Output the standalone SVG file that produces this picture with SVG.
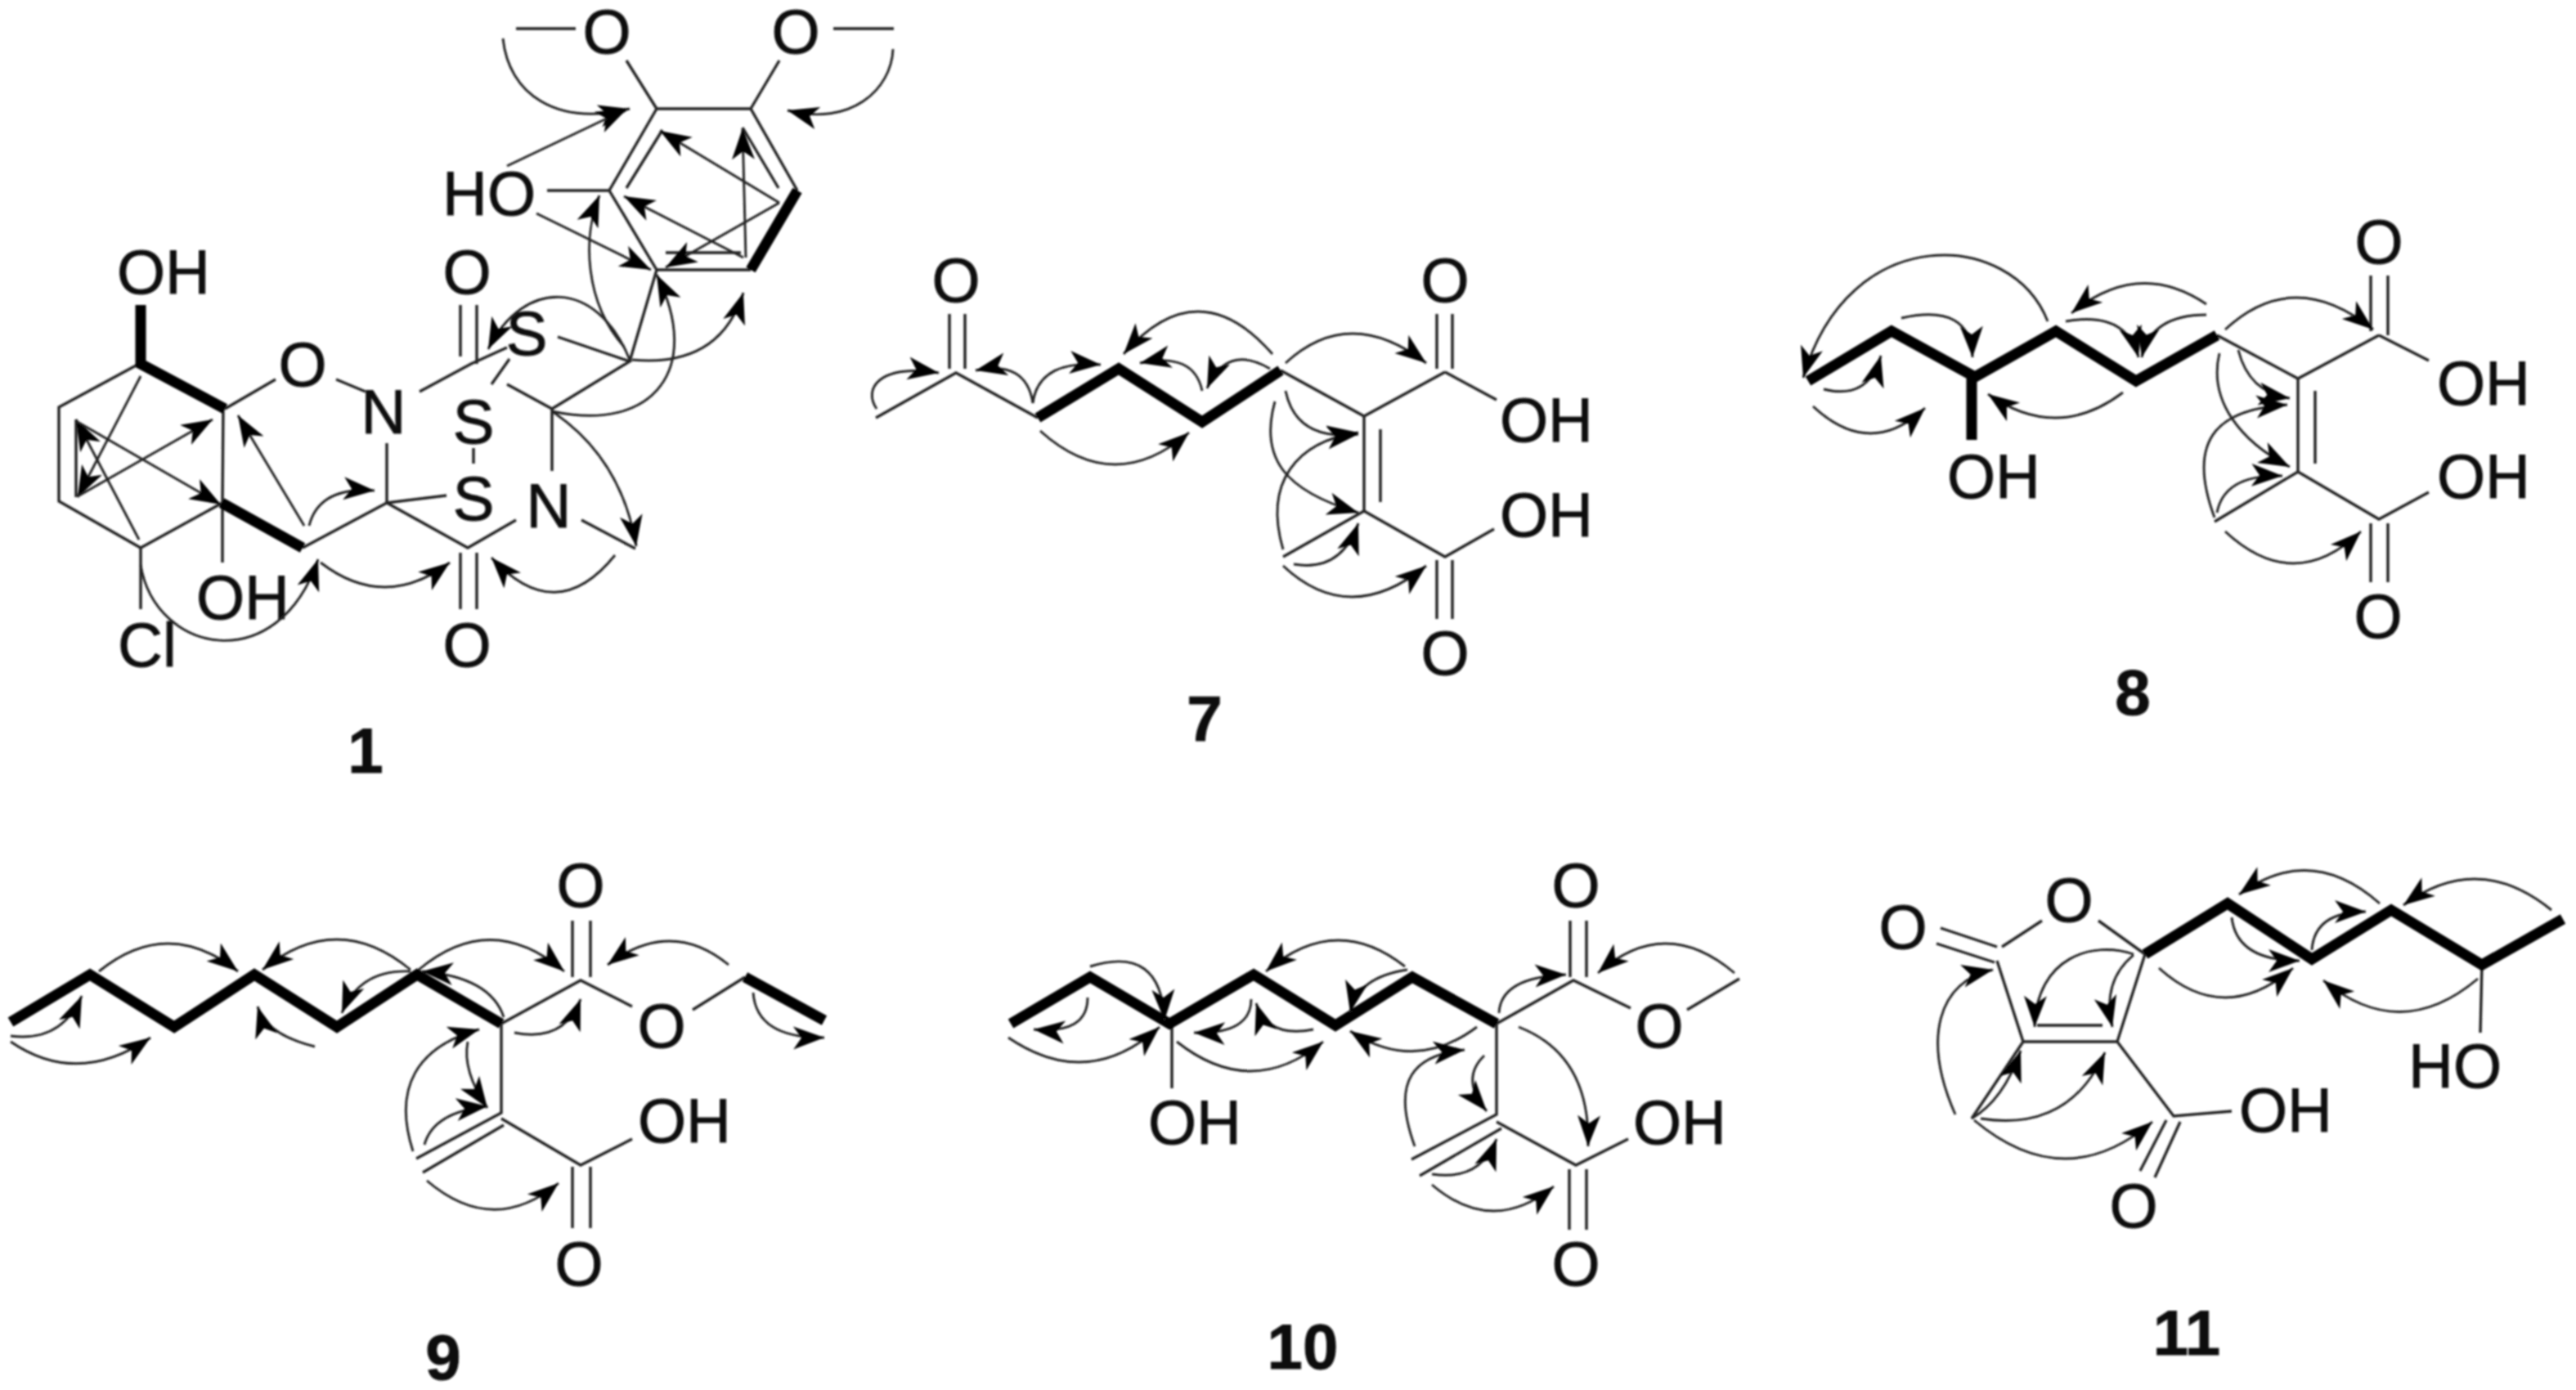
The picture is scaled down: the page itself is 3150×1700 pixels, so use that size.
<svg xmlns="http://www.w3.org/2000/svg" width="3150" height="1700" viewBox="0 0 3150 1700">
<style>
.b{fill:none;stroke:#222;stroke-width:3.4}
.h{fill:none;stroke:#000;stroke-width:13;stroke-linejoin:miter}
.a{fill:none;stroke:#222;stroke-width:2.9;marker-end:url(#ah)}
text{font-family:"Liberation Sans",Arial,sans-serif;font-size:76px;fill:#111;stroke:#111;stroke-width:.9;text-anchor:middle}
.n{font-weight:bold;font-size:78px}
</style>
<defs>
<marker id="ah" markerUnits="userSpaceOnUse" markerWidth="40" markerHeight="30" viewBox="0 0 40 30" refX="38" refY="15" orient="auto"><path d="M0 1L38 15L0 29L10 15Z" fill="#000"/></marker>
<filter id="soft" x="0" y="0" width="3150" height="1700" filterUnits="userSpaceOnUse"><feGaussianBlur stdDeviation="0.9"/></filter>
</defs>
<rect width="3150" height="1700" fill="#fff"/>
<g filter="url(#soft)">
<g id="compound-1">
<path class="b" d="M631 35H704M1019 35H1093M766 74L803 133M953 74L918 133M803 133H918L975 233M918 330H803L745 233L803 133M810 159L766 230M908 156L952 230M814 309H906M669 233H745M803 330L770 442M682 412L770 442L675 500V576M711 636L777 671M620 470L675 500M513 479L576 445L620 425M563 373V436M583 373V445M623 439L601 470M579 548V567M473 542V615L546 606M411 464L447 479M275 500L337 464M473 615L572 670L631 636M563 676V745M583 676V745M473 615L370 670M170 445L72 498V613L172 670L272 615L273 498M93 513V608M172 670V745M272 615V688"/>
<path class="h" d="M975 233L918 330M172 373V445L275 500M370 670L271 615"/>
<text x="742" y="65">O</text><text x="973" y="65">O</text><text x="598" y="263">HO</text><text x="644" y="434">S</text><text x="571" y="359">O</text><text x="370" y="472">O</text><text x="469" y="530">N</text><text x="579" y="542">S</text><text x="579" y="636">S</text><text x="671" y="645">N</text><text x="200" y="359">OH</text><text x="297" y="757">OH</text><text x="180" y="815">Cl</text><text x="571" y="815">O</text>
<text class="n" x="447" y="945">1</text>
</g>
<g id="compound-7">
<path class="b" d="M1161 384V451M1180 384V451M1071 511L1169 456L1269 511M1566 453L1668 509L1767 455M1757 384V451M1776 384V451M1767 455L1830 489M1668 509V625M1688 525V614M1569 681L1668 625L1767 681L1827 647M1757 685V757M1776 685V757"/>
<path class="h" d="M1269 511L1368 451L1470 516L1566 453"/>
<text x="1169" y="369">O</text><text x="1767" y="369">O</text><text x="1891" y="540">OH</text><text x="1891" y="656">OH</text><text x="1767" y="825">O</text>
<text class="n" x="1473" y="906">7</text>
</g>
<g id="compound-8">
<path class="b" d="M2711 410L2810 463L2909 410M2899 337V405M2920 337V410M2909 410L2970 441M2810 463V577M2831 478V567M2708 638L2810 577L2909 635L2970 602M2899 640V712M2920 640V712"/>
<path class="h" d="M2211 466L2313 405L2415 461L2514 405L2612 466L2711 410M2411 461V538"/>
<text x="2909" y="322">O</text><text x="3037" y="495">OH</text><text x="3037" y="609">OH</text><text x="2438" y="609">OH</text><text x="2908" y="780">O</text>
<text class="n" x="2608" y="874">8</text>
</g>
<g id="compound-9">
<path class="b" d="M613 1252L710 1199L773 1231M700 1126V1195M722 1126V1195M847 1235L911 1195M613 1252V1361L509 1417M616 1376L517 1434M613 1368L710 1425L773 1393M700 1427V1502M722 1427V1502"/>
<path class="h" d="M13 1250L110 1192L213 1256L311 1192L412 1256L510 1192L613 1252M911 1195L1008 1248"/>
<text x="710" y="1109">O</text><text x="809" y="1281">O</text><text x="837" y="1397">OH</text><text x="708" y="1572">O</text>
<text class="n" x="542" y="1687">9</text>
</g>
<g id="compound-10">
<path class="b" d="M1830 1252L1924 1199L1994 1233M1920 1126V1195M1940 1126V1195M2063 1235L2127 1197M1830 1252V1363L1726 1418M1836 1380L1736 1438M1830 1372L1927 1425L1991 1393M1919 1430V1504M1940 1430V1504M1433 1252V1331"/>
<path class="h" d="M1236 1252L1333 1195L1430 1252L1533 1192L1633 1254L1727 1195L1830 1252"/>
<text x="1927" y="1109">O</text><text x="2029" y="1281">O</text><text x="2054" y="1399">OH</text><text x="1461" y="1399">OH</text><text x="1927" y="1572">O</text>
<text class="n" x="1593" y="1674">10</text>
</g>
<g id="compound-11">
<path class="b" d="M2373 1135L2442 1158M2368 1154L2439 1177M2448 1158L2497 1126M2566 1126L2623 1167L2589 1274H2474L2442 1175M2491 1254H2571M2474 1274L2411 1368M2589 1274L2658 1365L2729 1359M2649 1370L2617 1432M2666 1372L2635 1440M3035 1180L3033 1263"/>
<path class="h" d="M2623 1167L2724 1105L2827 1173L2924 1113L3035 1180L3134 1124"/>
<text x="2530" y="1127">O</text><text x="2327" y="1160">O</text><text x="2795" y="1384">OH</text><text x="2609" y="1501">O</text><text x="3002" y="1330">HO</text>
<text class="n" x="2674" y="1657">11</text>
</g>
<g id="connectors">
<g id="hmbc-1">
<path class="a" d="M615 47C622 115 680 155 770 133"/><path class="a" d="M1092 60C1090 110 1040 155 963 135"/><path class="a" d="M620 203L767 133"/><path class="a" d="M656 261L796 330"/><path class="a" d="M953 248L807 160"/><path class="a" d="M912 315L908 157"/><path class="a" d="M909 315L763 240"/><path class="a" d="M953 248L814 327"/><path class="a" d="M763 424C715 370 712 290 733 239"/><path class="a" d="M675 503C800 530 860 450 803 336"/><path class="a" d="M773 440Q880 450 909 358"/><path class="a" d="M770 440C730 340 640 340 597 427"/><path class="a" d="M675 503Q760 560 778 668"/><path class="a" d="M752 679Q680 768 601 682"/><path class="a" d="M392 688Q470 748 550 688"/><path class="a" d="M172 691C190 800 340 830 389 684"/><path class="a" d="M372 643L291 508"/><path class="a" d="M378 643Q390 595 458 600"/><path class="a" d="M172 460L95 608"/><path class="a" d="M170 660L93 513"/><path class="a" d="M95 607L260 513"/><path class="a" d="M93 515L270 617"/>
</g>
<g id="hmbc-7">
<path class="a" d="M1072 500C1055 475 1075 445 1148 456"/><path class="a" d="M1263 493Q1255 440 1193 453"/><path class="a" d="M1263 493Q1270 440 1346 446"/><path class="a" d="M1272 527Q1362 608 1454 529"/><path class="a" d="M1556 433Q1465 329 1374 433"/><path class="a" d="M1470 478Q1460 430 1394 444"/><path class="a" d="M1553 451Q1500 420 1476 475"/><path class="a" d="M1572 444Q1650 372 1744 444"/><path class="a" d="M1572 478Q1585 540 1661 531"/><path class="a" d="M1559 491C1540 560 1570 600 1661 627"/><path class="a" d="M1569 672C1545 590 1585 540 1661 529"/><path class="a" d="M1582 690Q1640 700 1661 640"/><path class="a" d="M1569 692Q1650 768 1744 692"/>
</g>
<g id="hmbc-8">
<path class="a" d="M2504 393C2460 280 2260 270 2205 462"/><path class="a" d="M2325 389Q2410 370 2412 437"/><path class="a" d="M2230 476Q2285 490 2300 435"/><path class="a" d="M2217 497Q2287 562 2354 499"/><path class="a" d="M2596 480Q2515 541 2431 482"/><path class="a" d="M2698 372Q2615 316 2533 383"/><path class="a" d="M2526 393Q2600 380 2615 437"/><path class="a" d="M2698 385Q2630 385 2619 437"/><path class="a" d="M2721 403Q2805 325 2902 403"/><path class="a" d="M2737 428Q2750 480 2800 487"/><path class="a" d="M2714 432C2700 490 2740 540 2800 571"/><path class="a" d="M2708 633C2670 530 2720 500 2797 495"/><path class="a" d="M2711 627Q2720 580 2791 582"/><path class="a" d="M2721 650Q2805 728 2887 650"/>
</g>
<g id="hmbc-9">
<path class="a" d="M13 1267Q75 1275 100 1218"/><path class="a" d="M13 1274Q95 1330 184 1269"/><path class="a" d="M121 1188Q205 1120 291 1188"/><path class="a" d="M502 1186Q412 1112 321 1186"/><path class="a" d="M385 1280Q325 1265 315 1231"/><path class="a" d="M502 1188Q440 1185 418 1239"/><path class="a" d="M512 1186Q600 1112 690 1188"/><path class="a" d="M616 1244Q600 1195 516 1188"/><path class="a" d="M629 1263Q690 1275 710 1222"/><path class="a" d="M891 1180Q820 1122 743 1180"/><path class="a" d="M921 1214Q925 1270 1008 1269"/><path class="a" d="M505 1408C480 1330 510 1280 586 1259"/><path class="a" d="M572 1274Q565 1310 596 1355"/><path class="a" d="M519 1400Q530 1360 596 1353"/><path class="a" d="M522 1444Q603 1513 683 1447"/>
</g>
<g id="hmbc-10">
<path class="a" d="M1333 1182Q1420 1155 1424 1248"/><path class="a" d="M1330 1220Q1330 1265 1264 1259"/><path class="a" d="M1233 1269Q1330 1335 1418 1256"/><path class="a" d="M1439 1274Q1530 1346 1618 1274"/><path class="a" d="M1530 1222Q1530 1265 1460 1263"/><path class="a" d="M1606 1259Q1550 1270 1536 1227"/><path class="a" d="M1718 1182Q1633 1115 1548 1188"/><path class="a" d="M1721 1186Q1660 1195 1651 1238"/><path class="a" d="M1806 1256Q1730 1313 1651 1261"/><path class="a" d="M1833 1239Q1835 1195 1915 1192"/><path class="a" d="M2121 1190Q2036 1118 1954 1190"/><path class="a" d="M1857 1256Q1945 1290 1942 1402"/><path class="a" d="M1730 1402C1700 1320 1730 1290 1791 1284"/><path class="a" d="M1815 1291Q1785 1320 1818 1359"/><path class="a" d="M1751 1436Q1810 1445 1830 1393"/><path class="a" d="M1751 1449Q1825 1512 1900 1451"/>
</g>
<g id="hmbc-11">
<path class="a" d="M2609 1167C2560 1150 2490 1170 2488 1256"/><path class="a" d="M2609 1168Q2570 1200 2583 1256"/><path class="a" d="M2391 1363C2350 1270 2370 1200 2437 1186"/><path class="a" d="M2411 1368Q2450 1345 2471 1285"/><path class="a" d="M2422 1368Q2530 1385 2574 1287"/><path class="a" d="M2414 1370Q2525 1463 2632 1372"/><path class="a" d="M2640 1184Q2720 1256 2804 1184"/><path class="a" d="M2729 1122Q2735 1175 2812 1175"/><path class="a" d="M2827 1162Q2830 1115 2893 1115"/><path class="a" d="M2910 1105Q2825 1030 2738 1094"/><path class="a" d="M3120 1113Q3030 1040 2939 1107"/><path class="a" d="M3030 1197Q2935 1277 2841 1199"/>
</g>
</g>
</g>
</svg>
